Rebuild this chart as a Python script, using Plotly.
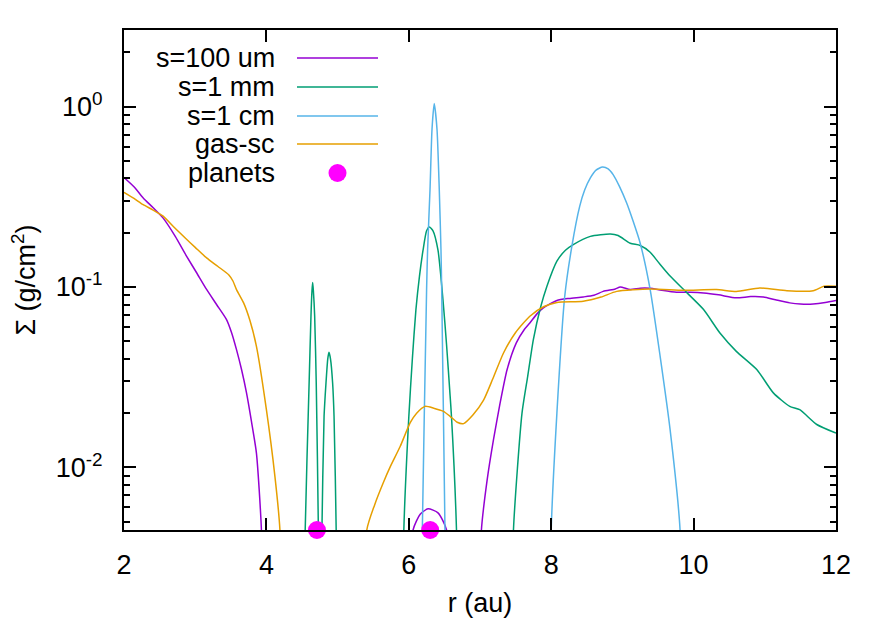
import plotly.graph_objects as go
import math

# ---------------- data ----------------
r_100um = [2.00, 2.14, 2.27, 2.41, 2.55, 2.72, 2.88, 3.02, 3.16, 3.30, 3.44, 3.51, 3.58, 3.65, 3.72, 3.79, 3.86, 3.93, 3.97,
           6.02, 6.06, 6.16, 6.27, 6.41, 6.53, 6.57,
           6.98, 7.02, 7.10, 7.19, 7.28, 7.38, 7.51, 7.62, 7.70, 7.80, 7.89, 8.08, 8.25, 8.45, 8.60, 8.73, 8.90, 8.97,
           9.11, 9.25, 9.39, 9.55, 9.76, 9.95, 10.14, 10.35, 10.60, 10.80, 10.98, 11.15, 11.35,
           11.50, 11.68, 11.85, 12.00]
s_100um = [0.405, 0.36, 0.312, 0.275, 0.241, 0.191, 0.148, 0.120, 0.097, 0.080, 0.066, 0.056, 0.045, 0.035, 0.026, 0.018, 0.012, 0.0045, 0.0004,
           0.0004, 0.0045, 0.0055, 0.0059, 0.0056, 0.0045, 0.0004,
           0.0004, 0.0045, 0.0085, 0.0143, 0.0225, 0.0348, 0.049, 0.058, 0.0632, 0.071, 0.0766, 0.0843, 0.0865, 0.0881, 0.090, 0.0946, 0.0975, 0.100,
           0.0968, 0.0985, 0.0984, 0.0960, 0.0935, 0.0935, 0.0927, 0.0905, 0.0871, 0.0885, 0.0881, 0.0850, 0.0817,
           0.0805, 0.0805, 0.0820, 0.0841]

r_1mm = [4.52, 4.545, 4.60, 4.626, 4.64, 4.65, 4.66, 4.678, 4.70, 4.73, 4.75,
         4.76, 4.78, 4.81, 4.837, 4.862, 4.879, 4.90, 4.93, 4.95, 4.98, 5.00,
         5.89, 5.93, 6.00, 6.05, 6.10, 6.15, 6.20, 6.25, 6.29, 6.34, 6.41, 6.48, 6.53, 6.58, 6.60, 6.67, 6.71,
         7.43, 7.47, 7.59, 7.67, 7.75, 7.85, 7.94, 8.08, 8.20, 8.31, 8.55, 8.83, 8.94, 9.11, 9.25, 9.39, 9.52, 9.67, 9.86,
         10.14, 10.37, 10.60, 10.89, 11.12, 11.35, 11.49, 11.73, 12.00]
s_1mm = [0.0004, 0.0045, 0.0294, 0.0689, 0.095, 0.106, 0.095, 0.0689, 0.0294, 0.0045, 0.0004,
         0.0004, 0.0045, 0.0192, 0.0294, 0.040, 0.0435, 0.040, 0.0294, 0.0192, 0.0045, 0.0004,
         0.0004, 0.0045, 0.019, 0.040, 0.075, 0.115, 0.160, 0.205, 0.215, 0.205, 0.160, 0.085, 0.048, 0.025, 0.019, 0.0045, 0.0004,
         0.0004, 0.0045, 0.020, 0.032, 0.0513, 0.077, 0.101, 0.139, 0.160, 0.172, 0.191, 0.197, 0.193, 0.175, 0.170, 0.156, 0.135, 0.115, 0.0968,
         0.075, 0.0556, 0.044, 0.0348, 0.0259, 0.0218, 0.0209, 0.0173, 0.0155]

r_1cm = [6.16, 6.19, 6.25, 6.264, 6.298, 6.326, 6.357, 6.396, 6.428, 6.452, 6.462, 6.508, 6.54,
         7.97, 8.00, 8.08, 8.19, 8.29, 8.40, 8.47, 8.55, 8.63, 8.72, 8.80, 8.87, 8.96, 9.06, 9.15, 9.25, 9.39, 9.53, 9.67, 9.81, 9.84]
s_1cm = [0.0004, 0.0045, 0.097, 0.161, 0.347, 0.75, 1.04, 0.75, 0.347, 0.161, 0.097, 0.0045, 0.0004,
         0.0004, 0.0045, 0.020, 0.0887, 0.168, 0.280, 0.345, 0.403, 0.445, 0.463, 0.452, 0.420, 0.360, 0.292, 0.232, 0.175, 0.0968, 0.0413, 0.0162, 0.0045, 0.0004]

r_gas = [2.00, 2.14, 2.27, 2.41, 2.55, 2.70, 2.86, 3.00, 3.16, 3.32, 3.47, 3.53, 3.58, 3.68, 3.77, 3.86, 4.00, 4.12, 4.19, 4.23,
         5.37, 5.41, 5.52, 5.64, 5.74, 5.88, 6.02, 6.11, 6.23, 6.35, 6.48, 6.58, 6.68, 6.77, 6.90, 7.05, 7.18, 7.33, 7.50, 7.70,
         7.90, 8.08, 8.45, 8.70, 8.92, 9.39, 9.86, 10.32, 10.60, 10.93, 11.31, 11.68, 11.83, 12.00]
s_gas = [0.335, 0.31, 0.286, 0.267, 0.247, 0.215, 0.187, 0.166, 0.145, 0.130, 0.117, 0.108, 0.0968, 0.0817, 0.065, 0.0469, 0.0209, 0.0089, 0.0045, 0.0004,
         0.0004, 0.0045, 0.0062, 0.0082, 0.0101, 0.0131, 0.0177, 0.020, 0.0218, 0.0213, 0.0205, 0.0192, 0.0178, 0.0175, 0.0195, 0.0236, 0.031, 0.0431, 0.056, 0.0689,
         0.078, 0.0822, 0.0834, 0.088, 0.0946, 0.0975, 0.0960, 0.0968, 0.0946, 0.0989, 0.0955, 0.0955, 0.101, 0.101]

r_planets = [4.71, 6.30]
s_planets = [0.0045, 0.0045]

names = ["s=100 um", "s=1 mm", "s=1 cm", "gas-sc", "planets"]
colors = ["#9400d3", "#009e73", "#56b4e9", "#e69f00", "#ff00ff"]

x_ticks = [2, 4, 6, 8, 10, 12]
y_ticks = [1.0, 0.1, 0.01]
y_tick_text = ["10<sup>0</sup>", "10<sup>-1</sup>", "10<sup>-2</sup>"]
y_minor = [0.005, 0.006, 0.007, 0.008, 0.009,
           0.02, 0.03, 0.04, 0.05, 0.06, 0.07, 0.08, 0.09,
           0.2, 0.3, 0.4, 0.5, 0.6, 0.7, 0.8, 0.9, 2.0]
x_range = [2, 12]
y_range = [0.0045, 2.66]

# ---------------- figure ----------------
FONT = "Liberation Sans, Arial, sans-serif"
FS = 27
fig = go.Figure()
series = [(r_100um, s_100um), (r_1mm, s_1mm), (r_1cm, s_1cm), (r_gas, s_gas)]
for (rx, sy), nm, col in zip(series, names[:4], colors[:4]):
    fig.add_trace(go.Scatter(x=rx, y=sy, mode="lines", name=nm,
                             line=dict(color=col, width=1.5, shape="spline", smoothing=0.6),
                             showlegend=False))
fig.add_trace(go.Scatter(x=r_planets, y=s_planets, mode="markers", name=names[4],
                         marker=dict(color=colors[4], size=18), cliponaxis=False,
                         showlegend=False))

L, R, T, B = 124, 52, 30, 93
W, H = 888, 623
pw, ph = W - L - R, H - T - B

# manual gnuplot-style key (text right-aligned, sample to the right)
key_text_x = (277 - L) / pw
key_line_x0 = (297 - L) / pw
key_line_x1 = (378 - L) / pw
key_rows_px = [58, 87, 116, 144, 173]
annotations = []
shapes = []
for i, (nm, col) in enumerate(zip(names, colors)):
    yp = (H - B - key_rows_px[i]) / ph
    annotations.append(dict(x=key_text_x, y=yp, xref="paper", yref="paper", text=nm,
                            showarrow=False, xanchor="right", yanchor="middle",
                            font=dict(family=FONT, size=FS, color="black")))
    if i < 4:
        shapes.append(dict(type="line", xref="paper", yref="paper", x0=key_line_x0, x1=key_line_x1,
                           y0=yp, y1=yp, line=dict(color=col, width=1.5)))
    else:
        xc = (key_line_x0 + key_line_x1) / 2
        shapes.append(dict(type="circle", xref="paper", yref="paper", xsizemode="pixel", ysizemode="pixel",
                           xanchor=xc, yanchor=yp, x0=-9, x1=9, y0=-9, y1=9,
                           fillcolor=col, line=dict(color=col, width=0)))

fig.update_layout(
    width=W, height=H,
    margin=dict(l=L, r=R, t=T, b=B, autoexpand=False),
    paper_bgcolor="white", plot_bgcolor="white",
    font=dict(family=FONT, size=FS, color="black"),
    annotations=annotations, shapes=shapes,
    showlegend=False,
)
fig.update_xaxes(range=x_range, tickvals=x_ticks, ticks="inside", ticklen=12, tickwidth=1.5,
                 tickcolor="black", showline=True, linewidth=2, linecolor="black", mirror="ticks",
                 showgrid=False, zeroline=False, ticklabelstandoff=10,
                 tickfont=dict(family=FONT, size=FS),
                 title=dict(text="r (au)", font=dict(family=FONT, size=FS), standoff=14))
fig.update_yaxes(type="log", range=[math.log10(y_range[0]), math.log10(y_range[1])],
                 tickvals=y_ticks, ticktext=y_tick_text, ticks="inside", ticklen=12, tickwidth=1.5,
                 tickcolor="black", showline=True, linewidth=2, linecolor="black", mirror="ticks",
                 showgrid=False, zeroline=False, ticklabelstandoff=14,
                 tickfont=dict(family=FONT, size=FS),
                 minor=dict(tickvals=y_minor, ticks="inside", ticklen=6, tickwidth=1.5, tickcolor="black",
                            showgrid=False),
                 title=dict(text="Σ (g/cm<sup>2</sup>)", font=dict(family=FONT, size=FS), standoff=12))

fig.write_html("out.html", config={"displayModeBar": False},
               post_script="document.body.style.margin='0px';document.body.style.padding='0px';")
